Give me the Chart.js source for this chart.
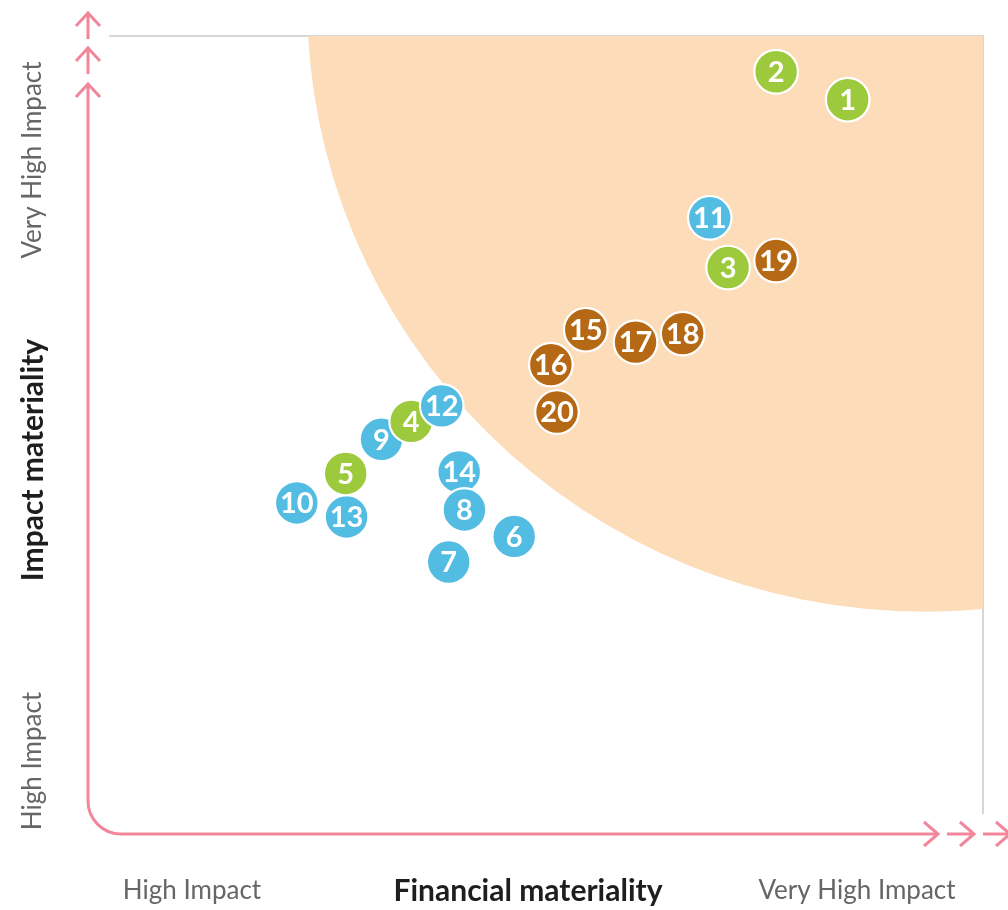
<!DOCTYPE html>
<html>
<head>
<meta charset="utf-8">
<script src="https://cdn.jsdelivr.net/npm/chart.js@4/dist/chart.umd.min.js"></script>
<style>
html,body{margin:0;padding:0;background:#fff;}
#wrap{width:1008px;height:910px;position:relative;}
</style>
</head>
<body>
<div id="wrap"><canvas id="c" width="1008" height="910"></canvas></div>
<script>
// Topics, listed in drawing order (later ones lie on top)
const ids    = [1, 2, 11, 3, 19, 15, 16, 17, 18, 20, 10, 13, 5, 9, 4, 12, 14, 8, 6, 7];
const finVal = [84.5, 76.3, 68.7, 70.8, 76.3, 54.5, 50.5, 60.2, 65.6, 51.2, 21.4, 27.1, 27.0, 31.1, 34.5, 38.0, 40.0, 40.6, 46.3, 38.8];
const impVal = [91.8, 95.4, 76.6, 70.2, 71.1, 62.2, 57.7, 60.6, 61.7, 51.6, 39.9, 38.1, 43.7, 48.1, 50.4, 52.4, 43.9, 39.0, 35.6, 32.3];
const groups = ['E','E','S','E','G','G','G','G','G','G','S','S','E','S','E','S','S','S','S','S'];
const groupColors = {E: '#9cca3c', S: '#53bce2', G: '#b66914'};

// Axis tick labels
const xTickLabels = ['High Impact', 'Very High Impact'];
const yTickLabels = ['High Impact', 'Very High Impact'];
const xTitle = 'Financial materiality';
const yTitle = 'Impact materiality';

// Material zone (ellipse in data units)
const zoneCenter = [93.4, 104.2];
const zoneRadius = [70.8, 78.3];

const PINK = '#f2879b';
const FONT = 'Lato, "Open Sans", sans-serif';

const zonePlugin = {
  id: 'zone',
  beforeDatasetsDraw(chart) {
    const {ctx, chartArea: a, scales: {x, y}} = chart;
    const cx = x.getPixelForValue(zoneCenter[0]);
    const cy = y.getPixelForValue(zoneCenter[1]);
    const rx = x.getPixelForValue(zoneCenter[0] + zoneRadius[0]) - cx;
    const ry = cy - y.getPixelForValue(zoneCenter[1] + zoneRadius[1]);
    ctx.save();
    ctx.beginPath();
    ctx.rect(a.left, a.top, a.right - a.left, a.bottom - a.top);
    ctx.clip();
    ctx.beginPath();
    ctx.ellipse(cx, cy, rx, ry, 0, 0, Math.PI * 2);
    ctx.fillStyle = '#fcdcb9';
    ctx.fill();
    ctx.restore();
  }
};

const labelPlugin = {
  id: 'labels',
  afterDatasetsDraw(chart) {
    const {ctx} = chart;
    const meta = chart.getDatasetMeta(0);
    ctx.save();
    ctx.fillStyle = '#ffffff';
    ctx.font = 'bold 29px ' + FONT;
    ctx.textAlign = 'center';
    ctx.textBaseline = 'middle';
    meta.data.forEach((el, i) => {
      ctx.fillText(String(ids[i]), el.x, el.y + 1);
    });
    ctx.restore();
  }
};

const axesPlugin = {
  id: 'pinkAxes',
  afterDraw(chart) {
    const {ctx, chartArea: a} = chart;
    const vx = a.left - 22;       // vertical axis line
    const hy = a.bottom + 21;     // horizontal axis line
    const rad = 33;
    ctx.save();
    ctx.strokeStyle = PINK;
    ctx.lineWidth = 3;
    ctx.lineJoin = 'miter';
    const topTip = a.top + 48;
    const rightTip = a.right - 45;
    ctx.beginPath();
    ctx.moveTo(vx, topTip);
    ctx.lineTo(vx, hy - rad);
    ctx.arcTo(vx, hy, vx + rad, hy, rad);
    ctx.lineTo(rightTip, hy);
    ctx.stroke();
    [topTip, topTip - 36, topTip - 71].forEach((t, k) => {
      ctx.beginPath();
      ctx.moveTo(vx - 12, t + 13);
      ctx.lineTo(vx, t);
      ctx.lineTo(vx + 12, t + 13);
      if (k > 0) { ctx.moveTo(vx, t); ctx.lineTo(vx, t + 26); }
      ctx.stroke();
    });
    [rightTip, rightTip + 36, rightTip + 72].forEach((t, k) => {
      ctx.beginPath();
      ctx.moveTo(t - 14, hy - 12);
      ctx.lineTo(t, hy);
      ctx.lineTo(t - 14, hy + 12);
      if (k > 0) { ctx.moveTo(t, hy); ctx.lineTo(t - 27, hy); }
      ctx.stroke();
    });
    ctx.restore();

    ctx.save();
    ctx.textBaseline = 'middle';
    ctx.textAlign = 'center';
    const ty = a.bottom + 78;
    ctx.fillStyle = '#666666';
    ctx.font = '26px ' + FONT;
    ctx.fillText(xTickLabels[0], 192, ty);
    ctx.fillText(xTickLabels[1], 857, ty);
    ctx.fillStyle = '#1e1e1e';
    ctx.font = 'bold 30px ' + FONT;
    ctx.fillText(xTitle, 528, ty);

    const tx = 33;
    const drawRot = (txt, yc, font, color) => {
      ctx.save();
      ctx.translate(tx, yc);
      ctx.rotate(-Math.PI / 2);
      ctx.font = font;
      ctx.fillStyle = color;
      ctx.fillText(txt, 0, 0);
      ctx.restore();
    };
    drawRot(yTickLabels[0], 761, '26px ' + FONT, '#666666');
    drawRot(yTickLabels[1], 160, '26px ' + FONT, '#666666');
    drawRot(yTitle, 460, 'bold 30px ' + FONT, '#1e1e1e');
    ctx.restore();
  }
};

new Chart(document.getElementById('c'), {
  type: 'bubble',
  data: {
    datasets: [{
      label: 'Topics',
      data: ids.map((id, i) => ({x: finVal[i], y: impVal[i], r: 21.8})),
      backgroundColor: groups.map(g => groupColors[g]),
      borderColor: '#ffffff',
      borderWidth: 2.2,
      clip: false
    }]
  },
  options: {
    responsive: false,
    animation: false,
    events: [],
    layout: {padding: {left: 110, top: 28, right: 17, bottom: 97}},
    plugins: {legend: {display: false}, tooltip: {enabled: false}},
    scales: {
      x: {
        type: 'linear', min: 0, max: 100, position: 'top',
        grid: {display: false}, ticks: {display: false},
        border: {display: true, color: '#d6d6d6', width: 2}
      },
      y: {
        type: 'linear', min: 0, max: 100, position: 'right',
        grid: {display: false}, ticks: {display: false},
        border: {display: true, color: '#d6d6d6', width: 2}
      }
    }
  },
  plugins: [zonePlugin, labelPlugin, axesPlugin]
});
</script>
</body>
</html>
